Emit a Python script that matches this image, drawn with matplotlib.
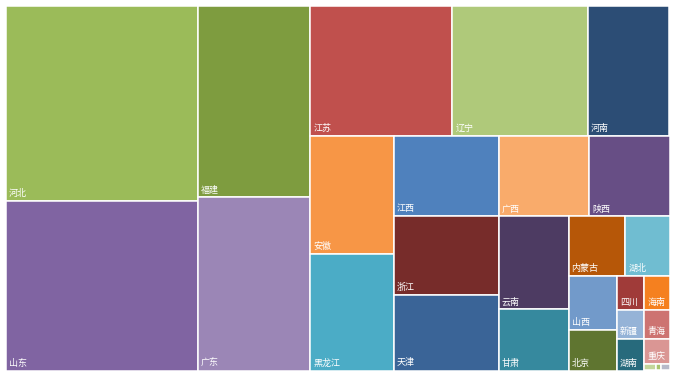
"""
Treemap of provinces, drawn with plain matplotlib rectangles.
"""

import matplotlib
matplotlib.use("Agg")
import matplotlib.pyplot as plt
from matplotlib.patches import Rectangle

plt.rcParams["font.family"] = ["Noto Sans CJK SC", "DejaVu Sans"]

# ── data ─────────────────────────────────────────────
provinces = ["河北", "山东", "福建", "广东", "江苏", "辽宁", "河南",
             "安徽", "黑龙江", "江西", "广西", "陕西", "浙江", "天津",
             "云南", "甘肃", "内蒙古", "湖北", "山西", "北京", "四川",
             "海南", "新疆", "青海", "湖南", "重庆", "宁夏", "贵州", "西藏"]
values = [374, 326, 216, 195, 185, 177, 106,
          98.5, 97.3, 84.5, 72.9, 64.4, 82.4, 79.3,
          64.6, 42.4, 33.9, 26.2, 26.2, 19.6, 9.1,
          8.5, 8.0, 7.5, 8.5, 6.3, 0.7, 0.35, 0.5]
colors = ["#9BBB59", "#8064A2", "#7E9C3F", "#9B86B6", "#C0504D", "#AFC97A",
          "#2C4D75", "#F79646", "#4BACC6", "#4F81BD", "#F9AB6B", "#674E85",
          "#772C2A", "#3A6497", "#4D3B62", "#36899E", "#B65708", "#70BDD1",
          "#729ACA", "#5F7530", "#A03B39", "#F5801F", "#95B3D7", "#CD7371",
          "#276A7C", "#DA9694", "#C3D69B", "#A9C46E", "#B7B9C9"]

# strips: ("v" = column on the left, "h" = row on top, number of items)
strips = [("v", 2), ("v", 2), ("h", 3), ("v", 2), ("h", 3), ("v", 2),
          ("v", 2), ("h", 2), ("v", 2), ("h", 2), ("h", 2), ("v", 1),
          ("h", 1), ("h", 3)]


def layout(vals, box):
    x, y, w, h = box
    scale = w * h / sum(vals)
    areas = [v * scale for v in vals]
    rects = []
    i = 0
    for direction, n in strips:
        group = areas[i:i + n]
        s = sum(group)
        if direction == "v":
            sw = s / h
            yy = y
            for a in group:
                rects.append((x, yy, sw, a / sw))
                yy += a / sw
            x += sw
            w -= sw
        else:
            sh = s / w
            xx = x
            for a in group:
                rects.append((xx, y, a / sh, sh))
                xx += a / sh
            y += sh
            h -= sh
        i += n
    return rects


fig = plt.figure(figsize=(6.77, 3.77), dpi=100, facecolor="white")
ax = fig.add_axes([0, 0, 1, 1])
ax.set_xlim(0, 677)
ax.set_ylim(377, 0)
ax.axis("off")

rects = layout(values, (5.5, 5.5, 664, 365))
for (rx, ry, rw, rh), name, c in zip(rects, provinces, colors):
    ax.add_patch(Rectangle((rx, ry), rw, rh, facecolor=c,
                           edgecolor="white", linewidth=1.1))
    if rh > 12 and rw > 18:
        ax.text(rx + 3, ry + rh - 3, name, ha="left", va="bottom",
                fontsize=6.5, color="white")

fig.savefig("out.png", dpi=100, facecolor="white")
